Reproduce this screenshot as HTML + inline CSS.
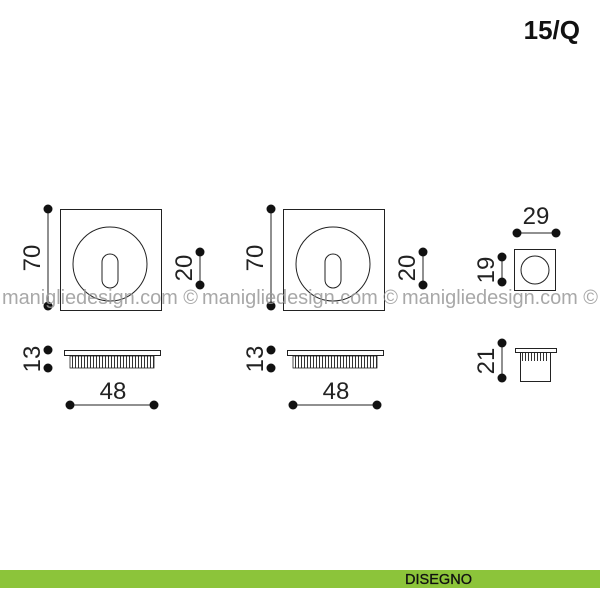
<!DOCTYPE html>
<html><head><style>body{margin:0;background:#fff}svg{display:block}</style></head><body>
<svg width="600" height="600" viewBox="0 0 600 600" xmlns="http://www.w3.org/2000/svg" font-family="Liberation Sans, sans-serif">
<rect width="600" height="600" fill="#fff"/>
<text x="580" y="39" text-anchor="end" font-size="26" font-weight="bold" fill="#111">15/Q</text>
<defs>
<pattern id="rib" width="3" height="10" patternUnits="userSpaceOnUse"><rect width="3" height="10" fill="#fff"/><rect x="0" width="1" height="10" fill="#333"/></pattern>
<g id="unit">
<rect x="60.5" y="209.5" width="101" height="101" fill="none" stroke="#222" stroke-width="1"/>
<circle cx="110" cy="264" r="37" fill="none" stroke="#222" stroke-width="1"/>
<rect x="102" y="254" width="16" height="34" rx="8" fill="none" stroke="#222" stroke-width="1"/>
<line x1="48" y1="209" x2="48" y2="306" stroke="#222"/>
<circle cx="48" cy="209" r="4.5" fill="#111"/><circle cx="48" cy="306" r="4.5" fill="#111"/>
<text transform="translate(40,258) rotate(-90)" text-anchor="middle" font-size="24" fill="#222">70</text>
<line x1="200" y1="252" x2="200" y2="285" stroke="#222"/>
<circle cx="200" cy="252" r="4.5" fill="#111"/><circle cx="200" cy="285" r="4.5" fill="#111"/>
<text transform="translate(192,268) rotate(-90)" text-anchor="middle" font-size="24" fill="#222">20</text>
<circle cx="48" cy="350" r="4.5" fill="#111"/><circle cx="48" cy="368" r="4.5" fill="#111"/>
<text transform="translate(40,359) rotate(-90)" text-anchor="middle" font-size="24" fill="#222">13</text>
<rect x="64.5" y="350.5" width="96" height="5" fill="#fff" stroke="#222"/>
<rect x="70" y="356" width="84" height="12" fill="url(#rib)" stroke="#222" stroke-width="0.8"/>
<text x="113" y="399" text-anchor="middle" font-size="24" fill="#222">48</text>
<line x1="70" y1="405" x2="154" y2="405" stroke="#222"/>
<circle cx="70" cy="405" r="4.5" fill="#111"/><circle cx="154" cy="405" r="4.5" fill="#111"/>
</g>
</defs>
<use href="#unit"/>
<use href="#unit" transform="translate(223,0)"/>
<text x="536" y="224" text-anchor="middle" font-size="24" fill="#222">29</text>
<line x1="517" y1="233" x2="556" y2="233" stroke="#222"/>
<circle cx="517" cy="233" r="4.5" fill="#111"/><circle cx="556" cy="233" r="4.5" fill="#111"/>
<rect x="514.5" y="249.5" width="41" height="41" fill="none" stroke="#222"/>
<circle cx="535" cy="270" r="14" fill="none" stroke="#222"/>
<line x1="502" y1="257" x2="502" y2="282" stroke="#222"/>
<circle cx="502" cy="257" r="4.5" fill="#111"/><circle cx="502" cy="282" r="4.5" fill="#111"/>
<text transform="translate(494,270) rotate(-90)" text-anchor="middle" font-size="24" fill="#222">19</text>
<line x1="502" y1="343" x2="502" y2="378" stroke="#222"/>
<circle cx="502" cy="343" r="4.5" fill="#111"/><circle cx="502" cy="378" r="4.5" fill="#111"/>
<text transform="translate(494,361) rotate(-90)" text-anchor="middle" font-size="24" fill="#222">21</text>
<rect x="515.5" y="348.5" width="41" height="4" fill="#fff" stroke="#222"/>
<rect x="520.5" y="352.5" width="30" height="29" fill="#fff" stroke="#222"/>
<rect x="522" y="353" width="27" height="8" fill="url(#rib)"/>
<g font-size="20" fill="#9a9a9a" opacity="0.85">
<text x="2" y="304" textLength="196" lengthAdjust="spacing">manigliedesign.com ©</text>
<text x="202" y="304" textLength="196" lengthAdjust="spacing">manigliedesign.com ©</text>
<text x="402" y="304" textLength="196" lengthAdjust="spacing">manigliedesign.com ©</text>
</g>
<rect x="0" y="570" width="600" height="18" fill="#8cc43a"/>
<text x="405" y="584" font-size="15" fill="#111" stroke="#111" stroke-width="0.3" textLength="67" lengthAdjust="spacingAndGlyphs">DISEGNO</text>
</svg>
</body></html>
